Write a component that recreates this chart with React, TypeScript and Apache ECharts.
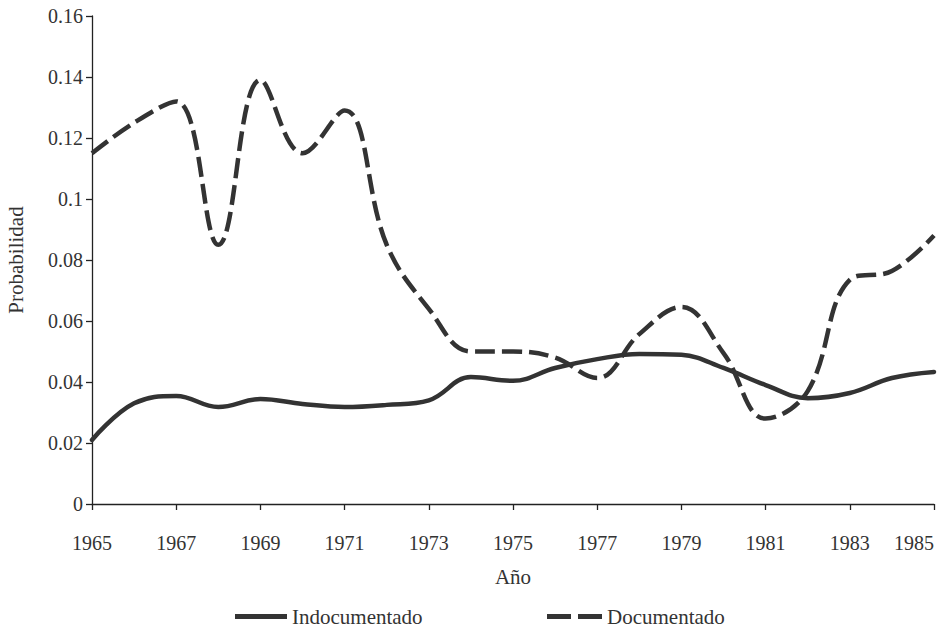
import React, { useEffect, useRef } from "react";
import * as echarts from "echarts";

const years = [
  "1965", "1966", "1967", "1968", "1969", "1970", "1971", "1972", "1973", "1974", "1975",
  "1976", "1977", "1978", "1979", "1980", "1981", "1982", "1983", "1984", "1985",
];
const indocumentado = [
  0.021, 0.033, 0.0354, 0.0318, 0.0344, 0.0328, 0.0318, 0.0325, 0.034, 0.0416, 0.0404,
  0.0446, 0.0475, 0.0492, 0.0489, 0.0446, 0.039, 0.0347, 0.0364, 0.0413, 0.0433,
];
const documentado = [
  0.115, 0.125, 0.132, 0.085, 0.139, 0.115, 0.129, 0.085, 0.064, 0.05, 0.05,
  0.048, 0.0413, 0.0557, 0.0646, 0.0495, 0.028, 0.037, 0.0735, 0.0764, 0.088,
];
const seriesNames = ["Indocumentado", "Documentado"];
const yAxisTitle = "Probabilidad";
const xAxisTitle = "Año";

const FONT = "Liberation Serif";
const INK = "#333333";

export default function App() {
  const ref = useRef<HTMLDivElement>(null);
  useEffect(() => {
    if (!ref.current) return;
    const chart = echarts.init(ref.current, undefined, { renderer: "svg" });
    chart.setOption({
      animation: false,
      backgroundColor: "#ffffff",
      textStyle: { fontFamily: FONT, color: INK },
      grid: { left: 92, right: 13, top: 16, bottom: 123, containLabel: false, outerBoundsMode: "none" },
      legend: [
        {
          left: 230,
          top: 601,
          itemWidth: 52,
          itemHeight: 5,
          icon: "rect",
          itemStyle: { color: INK, borderWidth: 0 },
          data: [{ name: seriesNames[0] }],
          textStyle: { fontFamily: FONT, fontSize: 21, color: INK },
          selectedMode: false,
        },
        {
          left: 542,
          top: 601,
          itemWidth: 55,
          itemHeight: 5,
          icon: "path://M0,0 H24 V5 H0 Z M31,0 H55 V5 H31 Z",
          itemStyle: { color: INK, borderWidth: 0 },
          data: [{ name: seriesNames[1] }],
          textStyle: { fontFamily: FONT, fontSize: 21, color: INK },
          selectedMode: false,
        },
      ],
      xAxis: {
        type: "category",
        data: years,
        boundaryGap: false,
        name: xAxisTitle,
        nameLocation: "middle",
        nameGap: 62,
        nameTextStyle: { fontFamily: FONT, fontSize: 21, color: INK },
        axisLine: { lineStyle: { color: "#222", width: 1.3 } },
        axisTick: { show: true, interval: 1, length: 6, inside: false, lineStyle: { color: "#222", width: 1.3 } },
        axisLabel: { interval: 1, margin: 29, fontFamily: FONT, fontSize: 20, color: INK, alignMaxLabel: "right" },
        splitLine: { show: false },
      },
      yAxis: {
        type: "value",
        min: 0,
        max: 0.16,
        interval: 0.02,
        name: yAxisTitle,
        nameLocation: "middle",
        nameGap: 66,
        nameRotate: 90,
        nameTextStyle: { fontFamily: FONT, fontSize: 21, color: INK },
        axisLine: { show: true, lineStyle: { color: "#222", width: 1.3 } },
        axisTick: { show: true, length: 6, lineStyle: { color: "#222", width: 1.3 } },
        axisLabel: { margin: 9, fontFamily: FONT, fontSize: 20, color: INK },
        splitLine: { show: false },
      },
      series: [
        {
          name: seriesNames[0],
          type: "line",
          data: indocumentado,
          smooth: 0.4,
          symbol: "none",
          lineStyle: { color: INK, width: 4.5, type: "solid", cap: "round" },
          itemStyle: { color: INK },
        },
        {
          name: seriesNames[1],
          type: "line",
          data: documentado,
          smooth: 0.4,
          symbol: "none",
          lineStyle: { color: INK, width: 4.5, type: [20, 7] },
          itemStyle: { color: INK },
        },
      ],
    });
    return () => chart.dispose();
  }, []);
  return <div ref={ref} style={{ width: 947, height: 627, position: "absolute", left: 0, top: 0 }} />;
}
